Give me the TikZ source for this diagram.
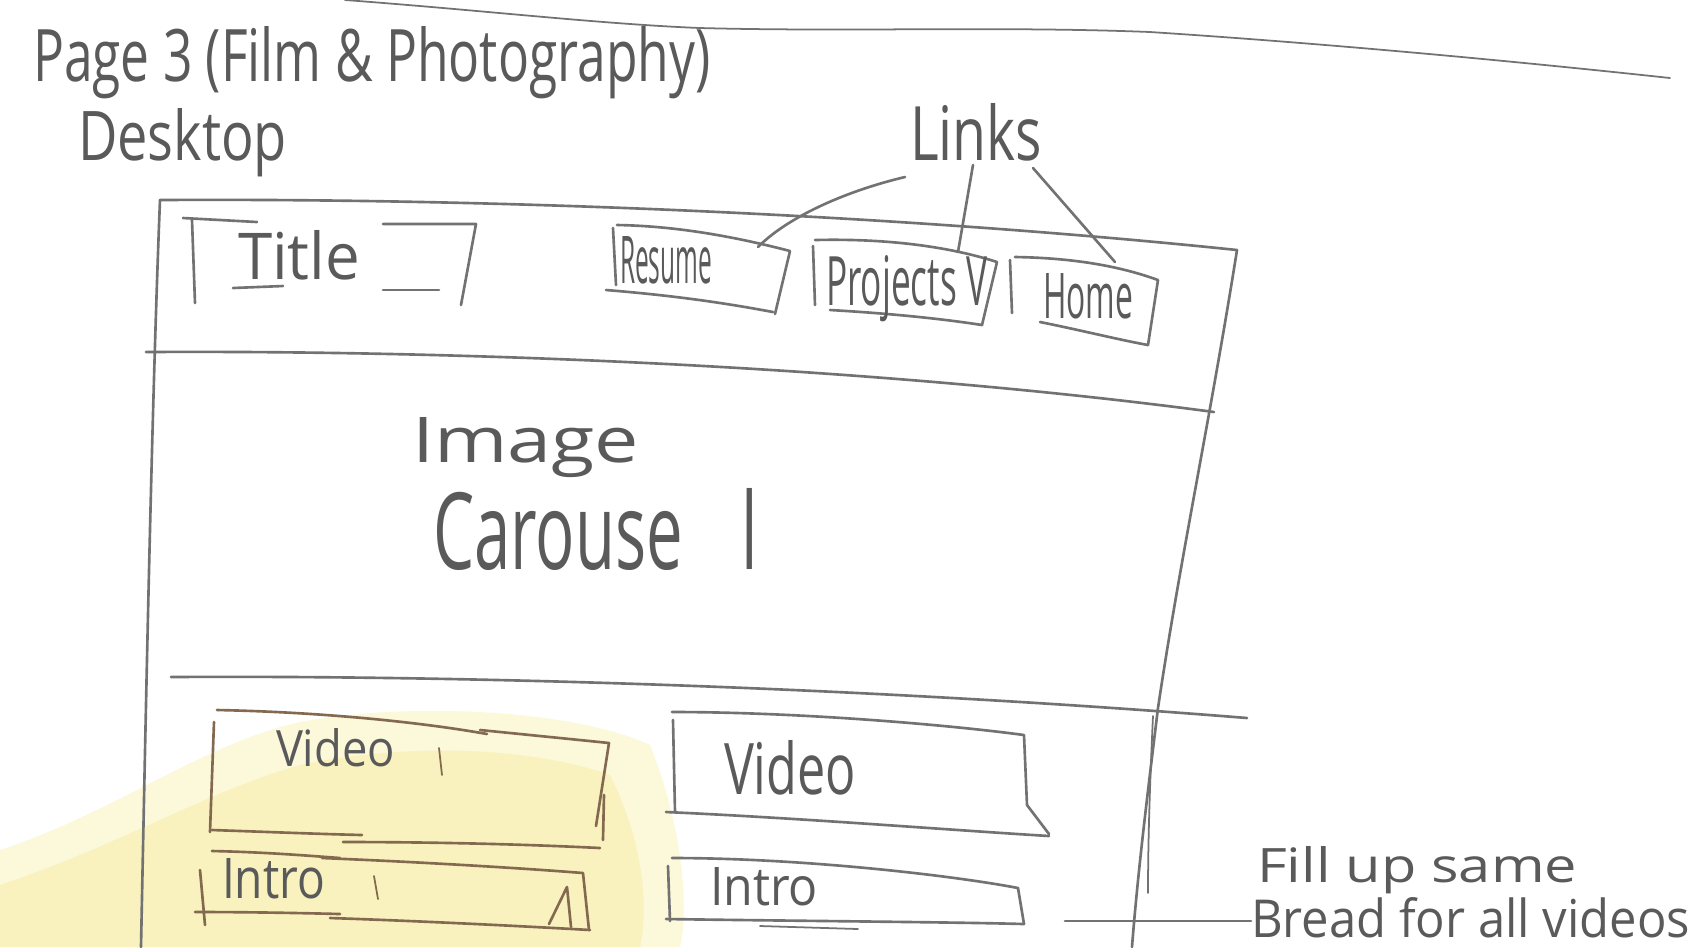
\documentclass[tikz,border=0pt]{standalone}
\usepackage{fontspec}
\setmainfont{Open Sans}
\usepackage{graphicx}
\definecolor{pencilgray}{HTML}{727272}
\definecolor{pencilbrown}{HTML}{83694F}
\definecolor{inkgray}{HTML}{5A5A5A}
\definecolor{markerpale}{HTML}{FCF8DA}
\definecolor{marker}{HTML}{F9F2BE}
% squeeze a handwritten-looking label into a given width and height
\newcommand{\hw}[3]{\resizebox{#1cm}{#2cm}{#3}}
\begin{document}
\begin{tikzpicture}[x=0.01cm,y=-0.01cm,
  pencil/.style={draw=pencilgray, line width=0.75pt, line cap=round, line join=round},
  warm/.style={pencil, draw=pencilbrown},
  faint/.style={pencil, line width=0.5pt},
  hand/.style={inner sep=0pt, outer sep=0pt, text=inkgray, anchor=base west},
]
\fill[white] (0,0) rectangle (1699,947);
\useasboundingbox (0,0) rectangle (1699,947);

% yellow marker smear in the lower left
\fill[markerpale] (0,850) .. controls (120,810) and (200,745) .. (300,722)
  .. controls (420,700) and (580,712) .. (650,745) .. controls (680,820) and (690,900) .. (680,947)
  -- (0,947) -- cycle;
\fill[marker] (0,885) .. controls (120,845) and (210,790) .. (300,765)
  .. controls (420,740) and (540,750) .. (610,775) .. controls (640,835) and (650,900) .. (640,947)
  -- (0,947) -- cycle;

% page edge at the top
\draw[faint] (345,0) .. controls (480,10) and (600,24) .. (700,28)
  .. controls (850,32) and (1000,26) .. (1150,32)
  .. controls (1350,45) and (1550,65) .. (1670,78);

% heading
\node[hand] (page) at (33,81) {\hw{6.77}{0.55}{Page 3 (Film \& Photography)}};
\node[hand] (desk) at (78,160) {\hw{2.09}{0.52}{Desktop}};

% browser frame
\draw[pencil] (141,947) .. controls (146,700) and (152,400) .. (160,200);
\draw[pencil] (160,200) .. controls (500,198) and (900,215) .. (1237,250);
\draw[pencil] (1237,250) .. controls (1210,420) and (1180,560) .. (1158,708)
  .. controls (1148,790) and (1138,870) .. (1132,947);
\draw[faint] (1153,716) .. controls (1150,780) and (1148,840) .. (1148,893);

% header / carousel / video separators
\draw[pencil] (146,352) .. controls (500,350) and (900,370) .. (1214,412);
\draw[pencil] (171,677) .. controls (500,675) and (900,690) .. (1247,718);

% title block
\draw[pencil] (183,218) -- (257,222);
\draw[pencil] (192,220) -- (195,303);
\draw[pencil] (233,288) -- (283,286);
\draw[pencil] (383,224) -- (476,224) -- (461,305);
\draw[pencil] (383,290) -- (439,290);
\node[hand] (title) at (238,279) {\hw{1.22}{0.49}{Title}};

% nav buttons
\coordinate (resTR) at (758,247);
\coordinate (projT) at (958,252);
\coordinate (homeT) at (1115,262);
\draw[pencil] (613,228) -- (616,285);
\draw[pencil] (617,225) .. controls (680,226) and (740,238) .. (790,251) -- (775,314);
\draw[pencil] (606,290) .. controls (680,296) and (730,304) .. (773,312);
\node[hand] (resume) at (620,283) {\hw{0.92}{0.47}{Resume}};

\draw[pencil] (813,246) -- (815,305);
\draw[pencil] (815,240) .. controls (900,238) and (960,250) .. (997,262) -- (982,325);
\draw[pencil] (830,310) .. controls (900,314) and (950,320) .. (982,325);
\node[hand] (projects) at (826,305) {\hw{1.61}{0.50}{Projects V}};

\draw[pencil] (1010,260) -- (1012,313);
\draw[pencil] (1015,257) .. controls (1080,258) and (1125,268) .. (1158,280) -- (1148,345);
\draw[pencil] (1040,322) .. controls (1080,330) and (1120,340) .. (1148,345);
\node[hand] (home) at (1043,318) {\hw{0.90}{0.45}{Home}};

% links callout
\node[hand] (links) at (910,160) {\hw{1.32}{0.57}{Links}};
\coordinate (lkA) at (905,177);
\coordinate (lkB) at (973,165);
\coordinate (lkC) at (1033,168);
\draw[pencil] (lkA) .. controls (850,190) and (790,215) .. (resTR);
\draw[pencil] (lkB) -- (projT);
\draw[pencil] (lkC) -- (homeT);

% carousel
\node[hand] (image) at (412,462) {\hw{2.27}{0.45}{Image}};
\node[hand] (carousel) at (433,569) {\hw{3.25}{0.81}{Carouse\hspace{0.9em}l}};

% left video card
\draw[warm] (214,722) -- (210,832);
\draw[warm] (217,710) .. controls (320,712) and (420,722) .. (487,734);
\draw[warm] (480,730) .. controls (540,736) and (580,740) .. (609,743) -- (596,826);
\draw[warm] (604,795) -- (603,840);
\draw[warm] (212,830) .. controls (270,832) and (320,834) .. (362,835);
\draw[warm] (343,842) .. controls (450,842) and (540,845) .. (600,848);
\node[hand] (videoL) at (276,766) {\hw{1.19}{0.38}{Video}};
\draw[warm, line width=0.5pt] (439,748) -- (442,775);

% left intro card
\draw[warm] (212,851) .. controls (260,852) and (300,855) .. (340,858);
\draw[warm] (322,858) .. controls (420,862) and (520,868) .. (583,873) -- (589,930);
\draw[warm] (200,870) -- (205,925);
\draw[warm] (195,912) .. controls (250,912) and (300,913) .. (340,914);
\draw[warm] (330,918) .. controls (420,921) and (520,926) .. (590,930);
\draw[warm] (549,924) -- (567,887) -- (571,927);
\node[hand] (introL) at (222,898) {\hw{1.03}{0.40}{Intro}};
\draw[warm, line width=0.5pt] (374,876) -- (378,899);

% right video card
\draw[pencil] (672,712) .. controls (800,712) and (950,725) .. (1024,735) -- (1027,805) -- (1049,834);
\draw[pencil] (673,720) -- (675,812);
\draw[pencil] (666,812) .. controls (800,818) and (950,830) .. (1049,836);
\node[hand] (videoR) at (724,794) {\hw{1.32}{0.54}{Video}};

% right intro card
\draw[pencil] (672,858) .. controls (800,858) and (950,875) .. (1018,888) -- (1024,924);
\draw[pencil] (668,866) -- (670,921);
\draw[pencil] (666,919) .. controls (800,921) and (950,922) .. (1024,924);
\draw[faint] (760,926) -- (858,929);
\node[hand] (introR) at (710,905) {\hw{1.08}{0.38}{Intro}};

% note on card widths
\node[hand] (note1) at (1257,882) {\hw{3.20}{0.36}{Fill up same}};
\node[hand] (note2) at (1251,937) {\hw{4.39}{0.40}{Bread for all videos}};
\coordinate (introTail) at (1065,921);
\draw[pencil] (introTail) -- (note2.west |- 0,921);
\end{tikzpicture}
\end{document}
